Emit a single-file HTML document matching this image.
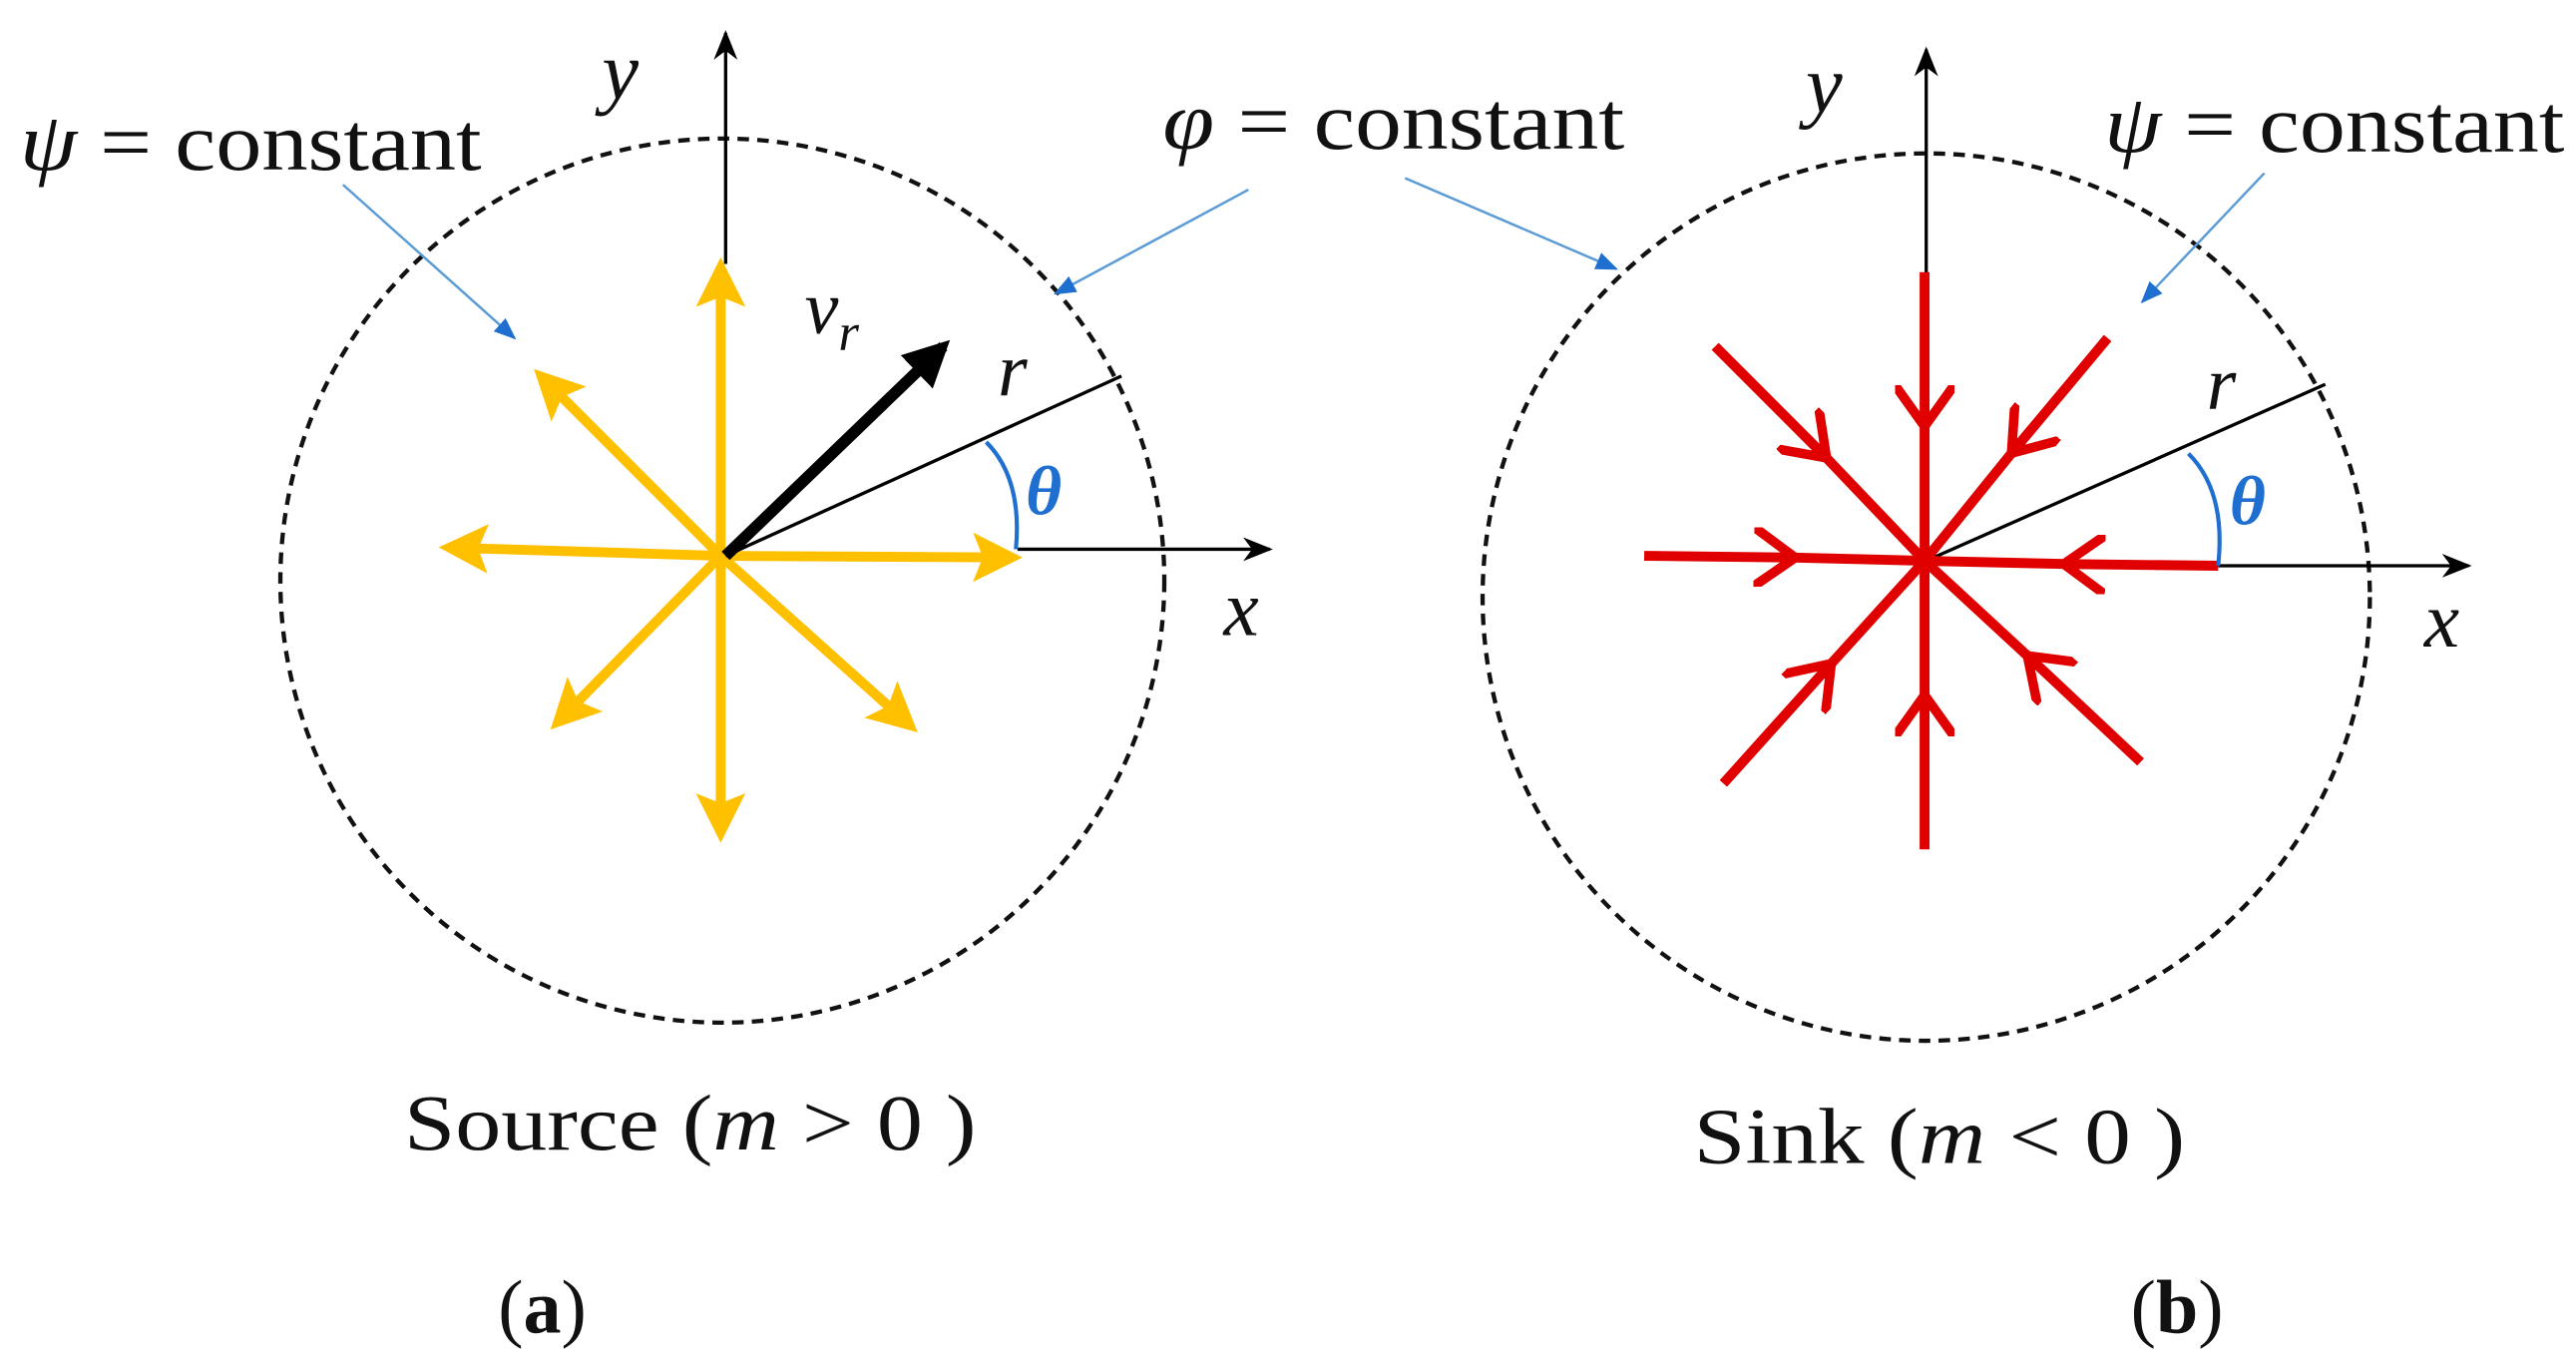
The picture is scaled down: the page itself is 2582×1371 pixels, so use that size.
<!DOCTYPE html>
<html><head><meta charset="utf-8"><style>
html,body{margin:0;padding:0;background:#fff;}
svg{display:block;}
text{font-family:"Liberation Serif",serif;fill:#111;}
</style></head><body>
<svg width="2582" height="1371" viewBox="0 0 1562 829.4" preserveAspectRatio="none" xmlns="http://www.w3.org/2000/svg">
<defs>
<marker id="ya" viewBox="0 0 10 10" refX="8" refY="5" markerWidth="5" markerHeight="5" orient="auto"><path d="M0,0 L10,5 L0,10 L2,5 z" fill="#FFC000"/></marker>
<marker id="ka" viewBox="0 0 10 10" refX="8" refY="5" markerWidth="4" markerHeight="4" orient="auto"><path d="M0,0 L10,5 L0,10 z" fill="#000"/></marker>
<marker id="ax" viewBox="0 0 10 10" refX="9" refY="5" markerWidth="9" markerHeight="9" orient="auto"><path d="M0,1 L10,5 L0,9 L3,5 z" fill="#000"/></marker>
<marker id="ba" viewBox="0 0 10 10" refX="9" refY="5" markerWidth="9" markerHeight="9" orient="auto"><path d="M0,1 L10,5 L0,9 z" fill="#1F6FD0"/></marker>
<marker id="rc" viewBox="0 0 10 10" refX="6" refY="5" markerWidth="6" markerHeight="6" orient="auto"><path d="M0,0 L7,5 L0,10" fill="none" stroke="#E00000" stroke-width="1.6"/></marker>
</defs>

<!-- LEFT PANEL -->
<circle cx="438" cy="352" r="268" fill="none" stroke="#111" stroke-width="2.6" stroke-dasharray="7,5"/>
<line x1="440" y1="160" x2="440" y2="20" stroke="#000" stroke-width="2" marker-end="url(#ax)"/>
<line x1="617" y1="333" x2="770" y2="333" stroke="#000" stroke-width="2" marker-end="url(#ax)"/>
<g stroke="#FFC000" stroke-width="6" fill="none">
<line x1="437" y1="337" x2="437" y2="162" marker-end="url(#ya)"/>
<line x1="437" y1="337" x2="437" y2="505" marker-end="url(#ya)"/>
<line x1="437" y1="337" x2="272" y2="332" marker-end="url(#ya)"/>
<line x1="437" y1="337" x2="614" y2="338" marker-end="url(#ya)"/>
<line x1="437" y1="337" x2="328" y2="228" marker-end="url(#ya)"/>
<line x1="437" y1="337" x2="338" y2="438" marker-end="url(#ya)"/>
<line x1="437" y1="337" x2="552" y2="440" marker-end="url(#ya)"/>
</g>
<line x1="440" y1="337" x2="680" y2="228" stroke="#000" stroke-width="2"/>
<line x1="440" y1="337" x2="572" y2="210" stroke="#000" stroke-width="7" marker-end="url(#ka)"/>
<path d="M598,268 Q620,290 616,333" fill="none" stroke="#1F6FD0" stroke-width="2.5"/>
<line x1="208" y1="112" x2="312" y2="205" stroke="#5B9BD5" stroke-width="1.5" marker-end="url(#ba)"/>
<line x1="757" y1="115" x2="640" y2="178" stroke="#5B9BD5" stroke-width="1.5" marker-end="url(#ba)"/>
<text x="365" y="60" font-size="50" font-style="italic">y</text>
<text x="12" y="103" font-size="50" textLength="280" lengthAdjust="spacingAndGlyphs"><tspan font-style="italic">ψ</tspan> = constant</text>
<text x="705" y="90" font-size="50" textLength="280" lengthAdjust="spacingAndGlyphs"><tspan font-style="italic">φ</tspan> = constant</text>
<text x="488" y="202" font-size="46" font-style="italic">v<tspan font-size="32" dy="10">r</tspan></text>
<text x="605" y="240" font-size="46" font-style="italic">r</text>
<text x="622" y="312" font-size="42" font-style="italic" font-weight="bold" style="fill:#1F6FD0">θ</text>
<text x="742" y="385" font-size="48" font-style="italic">x</text>
<text x="245" y="697" font-size="48" textLength="347" lengthAdjust="spacingAndGlyphs">Source (<tspan font-style="italic">m</tspan> &gt; 0 )</text>
<text x="302" y="808" font-size="46">(<tspan font-weight="bold">a</tspan>)</text>

<!-- RIGHT PANEL -->
<circle cx="1168" cy="362" r="269" fill="none" stroke="#111" stroke-width="2.6" stroke-dasharray="7,5"/>
<line x1="1168" y1="265" x2="1168" y2="30" stroke="#000" stroke-width="2" marker-end="url(#ax)"/>
<line x1="1345" y1="343" x2="1497" y2="343" stroke="#000" stroke-width="2" marker-end="url(#ax)"/>
<line x1="1168" y1="340" x2="1410" y2="233" stroke="#000" stroke-width="2"/>
<g stroke="#E00000" stroke-width="6" fill="none">
<polyline points="1167,165 1167,255 1167,340" marker-mid="url(#rc)"/>
<polyline points="1167,515 1167,425 1167,340" marker-mid="url(#rc)"/>
<polyline points="997,337 1085,338 1167,340" marker-mid="url(#rc)"/>
<polyline points="1345,343 1255,342 1167,340" marker-mid="url(#rc)"/>
<polyline points="1040,210 1105,275 1167,340" marker-mid="url(#rc)"/>
<polyline points="1278,205 1222,272 1167,340" marker-mid="url(#rc)"/>
<polyline points="1045,475 1108,405 1167,340" marker-mid="url(#rc)"/>
<polyline points="1298,462 1232,400 1167,340" marker-mid="url(#rc)"/>
</g>
<path d="M1327,275 Q1350,298 1345,343" fill="none" stroke="#1F6FD0" stroke-width="2.5"/>
<line x1="852" y1="108" x2="980" y2="163" stroke="#5B9BD5" stroke-width="1.5" marker-end="url(#ba)"/>
<line x1="1373" y1="105" x2="1299" y2="183" stroke="#5B9BD5" stroke-width="1.5" marker-end="url(#ba)"/>
<text x="1095" y="68" font-size="50" font-style="italic">y</text>
<text x="1276" y="92" font-size="50" textLength="279" lengthAdjust="spacingAndGlyphs"><tspan font-style="italic">ψ</tspan> = constant</text>
<text x="1338" y="248" font-size="46" font-style="italic">r</text>
<text x="1352" y="318" font-size="42" font-style="italic" font-weight="bold" style="fill:#1F6FD0">θ</text>
<text x="1470" y="392" font-size="48" font-style="italic">x</text>
<text x="1027" y="705" font-size="48" textLength="298" lengthAdjust="spacingAndGlyphs">Sink (<tspan font-style="italic">m</tspan> &lt; 0 )</text>
<text x="1292" y="808" font-size="46">(<tspan font-weight="bold">b</tspan>)</text>
</svg>
</body></html>
